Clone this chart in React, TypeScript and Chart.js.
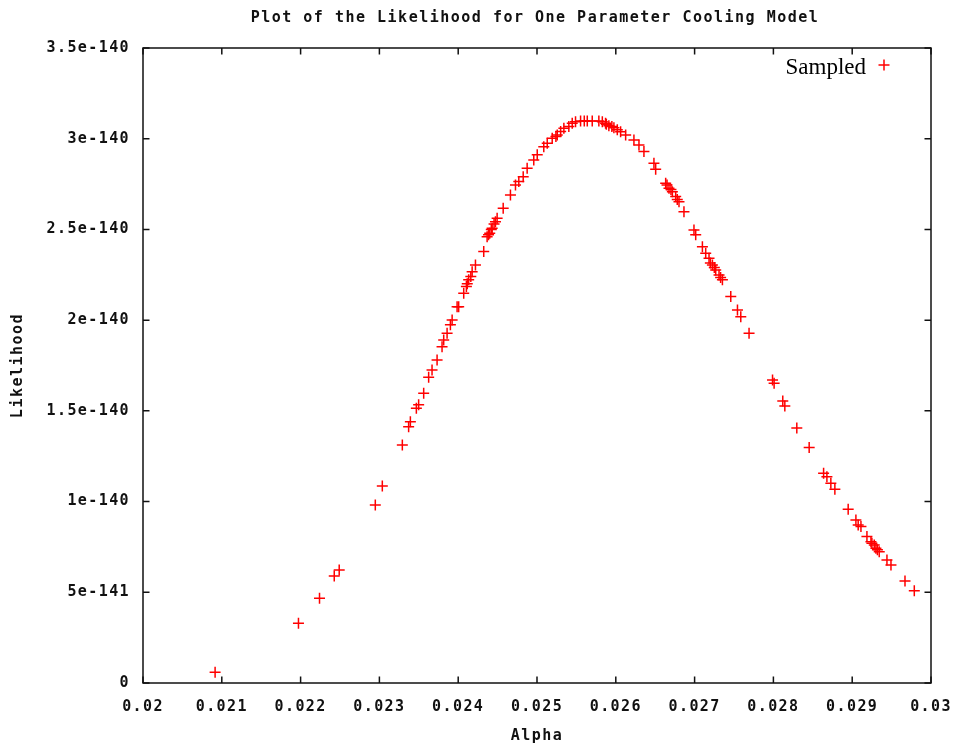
import { useEffect, useRef } from "react";
import { Chart, registerables } from "chart.js";

Chart.register(...registerables);

// Sampled alpha values and the likelihood computed at each one
const alpha = [
  0.020915, 0.021973, 0.02224, 0.022427, 0.02249, 0.022948, 0.023037, 0.023291,
  0.023371, 0.023393, 0.023469, 0.023498, 0.023562, 0.023625, 0.023668, 0.023732,
  0.023795, 0.023816, 0.023859, 0.023901, 0.023923, 0.023986, 0.024006, 0.02407,
  0.024104, 0.024115, 0.024133, 0.02416, 0.024177, 0.024219, 0.024324, 0.024367,
  0.024385, 0.0244, 0.02442, 0.024431, 0.024455, 0.024473, 0.024494, 0.024571,
  0.024663, 0.024727, 0.024769, 0.024825, 0.024875, 0.024959, 0.025003, 0.025086,
  0.02513, 0.025193, 0.02524, 0.025257, 0.0253, 0.025341, 0.025404, 0.025447,
  0.025489, 0.025553, 0.0256, 0.025638, 0.025701, 0.025785, 0.025829, 0.02587,
  0.02588, 0.025912, 0.02595, 0.025976, 0.026019, 0.026061, 0.026125, 0.02623,
  0.026294, 0.026357, 0.026484, 0.026506, 0.026633, 0.02665, 0.026675, 0.0267,
  0.026718, 0.02676, 0.02678, 0.026802, 0.026865, 0.026992, 0.027014, 0.027099,
  0.027141, 0.027183, 0.0272, 0.027226, 0.02725, 0.027268, 0.02731, 0.02733,
  0.027353, 0.027459, 0.027544, 0.027586, 0.027691, 0.027989, 0.028009, 0.028119,
  0.028145, 0.028297, 0.028454, 0.028637, 0.028679, 0.028729, 0.02878, 0.028949,
  0.029047, 0.029076, 0.029111, 0.029187, 0.029238, 0.02925, 0.02928, 0.029301,
  0.02932, 0.029343, 0.029441, 0.029492, 0.02967, 0.029788,
];

const likelihood = [
  0.059e-140, 0.329e-140, 0.467e-140, 0.59e-140, 0.623e-140, 0.981e-140, 1.086e-140, 1.312e-140,
  1.413e-140, 1.44e-140, 1.514e-140, 1.533e-140, 1.597e-140, 1.685e-140, 1.725e-140, 1.781e-140,
  1.854e-140, 1.891e-140, 1.928e-140, 1.974e-140, 2.001e-140, 2.074e-140, 2.074e-140, 2.148e-140,
  2.185e-140, 2.2e-140, 2.222e-140, 2.24e-140, 2.267e-140, 2.304e-140, 2.378e-140, 2.46e-140,
  2.47e-140, 2.479e-140, 2.5e-140, 2.507e-140, 2.53e-140, 2.543e-140, 2.562e-140, 2.617e-140,
  2.69e-140, 2.745e-140, 2.764e-140, 2.791e-140, 2.837e-140, 2.883e-140, 2.911e-140, 2.956e-140,
  2.975e-140, 3.003e-140, 3.012e-140, 3.021e-140, 3.04e-140, 3.058e-140, 3.067e-140, 3.085e-140,
  3.094e-140, 3.098e-140, 3.098e-140, 3.098e-140, 3.098e-140, 3.098e-140, 3.094e-140, 3.085e-140,
  3.08e-140, 3.072e-140, 3.067e-140, 3.061e-140, 3.049e-140, 3.039e-140, 3.021e-140, 2.993e-140,
  2.966e-140, 2.929e-140, 2.865e-140, 2.832e-140, 2.755e-140, 2.745e-140, 2.727e-140, 2.72e-140,
  2.708e-140, 2.681e-140, 2.665e-140, 2.653e-140, 2.598e-140, 2.497e-140, 2.47e-140, 2.405e-140,
  2.369e-140, 2.341e-140, 2.315e-140, 2.304e-140, 2.29e-140, 2.277e-140, 2.249e-140, 2.235e-140,
  2.222e-140, 2.13e-140, 2.056e-140, 2.019e-140, 1.928e-140, 1.67e-140, 1.652e-140, 1.555e-140,
  1.527e-140, 1.406e-140, 1.298e-140, 1.156e-140, 1.137e-140, 1.101e-140, 1.068e-140, 0.958e-140,
  0.899e-140, 0.871e-140, 0.862e-140, 0.807e-140, 0.779e-140, 0.77e-140, 0.761e-140, 0.743e-140,
  0.735e-140, 0.724e-140, 0.678e-140, 0.65e-140, 0.562e-140, 0.509e-140,
];

// Likelihoods are plotted in units of 1e-140
const Y_UNIT = 1e-140;

const xTickLabels = [
  "0.02", "0.021", "0.022", "0.023", "0.024", "0.025",
  "0.026", "0.027", "0.028", "0.029", "0.03",
];
const yTickLabels = [
  "0", "5e-141", "1e-140", "1.5e-140", "2e-140", "2.5e-140", "3e-140", "3.5e-140",
];

const chartTitle = "Plot of the Likelihood for One Parameter Cooling Model";
const xTitle = "Alpha";
const yTitle = "Likelihood";
const seriesName = "Sampled";

const MONO = '"DejaVu Sans Mono", monospace';
const RED = "#ff0000";
const INK = "#111111";

function drawCross(ctx: CanvasRenderingContext2D, x: number, y: number, r: number) {
  ctx.beginPath();
  ctx.moveTo(x - r, y);
  ctx.lineTo(x + r, y);
  ctx.moveTo(x, y - r);
  ctx.lineTo(x, y + r);
  ctx.stroke();
}

const gnuplotFrame = {
  id: "gnuplotFrame",
  beforeDraw(chart: any) {
    const ctx = chart.ctx as CanvasRenderingContext2D;
    ctx.save();
    ctx.fillStyle = "#ffffff";
    ctx.fillRect(0, 0, chart.width, chart.height);
    ctx.restore();
    (ctx as any).letterSpacing = "1.4px";
  },
  afterDraw(chart: any) {
    const ctx = chart.ctx as CanvasRenderingContext2D;
    const a = chart.chartArea;
    const xs = chart.scales.x;
    const ys = chart.scales.y;
    ctx.save();

    // border box
    ctx.strokeStyle = INK;
    ctx.lineWidth = 1.5;
    ctx.strokeRect(a.left, a.top, a.right - a.left, a.bottom - a.top);

    // inward tick marks, mirrored on the opposite sides
    const tl = 6.5;
    ctx.beginPath();
    xs.ticks.forEach((t: any) => {
      const px = xs.getPixelForValue(t.value);
      ctx.moveTo(px, a.bottom);
      ctx.lineTo(px, a.bottom - tl);
      ctx.moveTo(px, a.top);
      ctx.lineTo(px, a.top + tl);
    });
    ys.ticks.forEach((t: any) => {
      const py = ys.getPixelForValue(t.value);
      ctx.moveTo(a.left, py);
      ctx.lineTo(a.left + tl, py);
      ctx.moveTo(a.right, py);
      ctx.lineTo(a.right - tl, py);
    });
    ctx.stroke();

    // titles
    (ctx as any).letterSpacing = "1.5px";
    ctx.fillStyle = INK;
    ctx.font = `bold 15px ${MONO}`;
    ctx.textAlign = "center";
    ctx.textBaseline = "middle";
    ctx.fillText(chartTitle, 535, 18);
    ctx.fillText(xTitle, (a.left + a.right) / 2, 736);
    ctx.save();
    ctx.translate(18, (a.top + a.bottom) / 2);
    ctx.rotate(-Math.PI / 2);
    ctx.fillText(yTitle, 0, 0);
    ctx.restore();

    // key
    (ctx as any).letterSpacing = "0px";
    ctx.font = '23px "Liberation Serif", "Times New Roman", serif';
    ctx.textAlign = "right";
    ctx.textBaseline = "alphabetic";
    ctx.fillStyle = "#000000";
    ctx.fillText(seriesName, 866, 74);
    ctx.strokeStyle = RED;
    ctx.lineWidth = 1.5;
    drawCross(ctx, 884, 65, 5.5);

    ctx.restore();
  },
};

export default function App() {
  const canvasRef = useRef<HTMLCanvasElement | null>(null);

  useEffect(() => {
    const canvas = canvasRef.current;
    if (!canvas) return;
    const points = alpha.map((x, i) => ({ x, y: likelihood[i] / Y_UNIT }));

    const chart = new Chart(canvas, {
      type: "scatter",
      data: {
        datasets: [
          {
            label: seriesName,
            data: points,
            pointStyle: "cross",
            pointRadius: 5.5,
            pointHoverRadius: 5.5,
            borderWidth: 1.5,
            borderColor: RED,
            backgroundColor: RED,
          },
        ],
      },
      options: {
        animation: false,
        responsive: false,
        devicePixelRatio: 1,
        events: [],
        layout: { padding: { top: 48, right: 28, left: 0, bottom: 0 } },
        plugins: {
          legend: { display: false },
          title: { display: false },
          tooltip: { enabled: false },
        },
        scales: {
          x: {
            type: "linear",
            min: 0.02,
            max: 0.03,
            grid: { display: false, drawTicks: false },
            border: { display: false },
            ticks: {
              stepSize: 0.001,
              autoSkip: false,
              maxRotation: 0,
              padding: 15,
              color: INK,
              font: { family: MONO, weight: "bold", size: 15 },
              callback: (_v: any, i: number) => xTickLabels[i],
            },
            afterFit: (s: any) => {
              s.height = 64;
              s.paddingLeft = 0;
              s.paddingRight = 0;
            },
          },
          y: {
            type: "linear",
            min: 0,
            max: 3.5,
            grid: { display: false, drawTicks: false },
            border: { display: false },
            ticks: {
              stepSize: 0.5,
              autoSkip: false,
              padding: 13,
              color: INK,
              font: { family: MONO, weight: "bold", size: 15 },
              callback: (_v: any, i: number) => yTickLabels[i],
            },
            afterFit: (s: any) => {
              s.width = 143;
              s.paddingTop = 0;
              s.paddingBottom = 0;
            },
          },
        },
      },
      plugins: [gnuplotFrame],
    });

    return () => chart.destroy();
  }, []);

  return (
    <div style={{ position: "absolute", left: 0, top: 0, width: 959, height: 747, background: "#fff" }}>
      <canvas ref={canvasRef} width={959} height={747} style={{ display: "block" }} />
    </div>
  );
}
